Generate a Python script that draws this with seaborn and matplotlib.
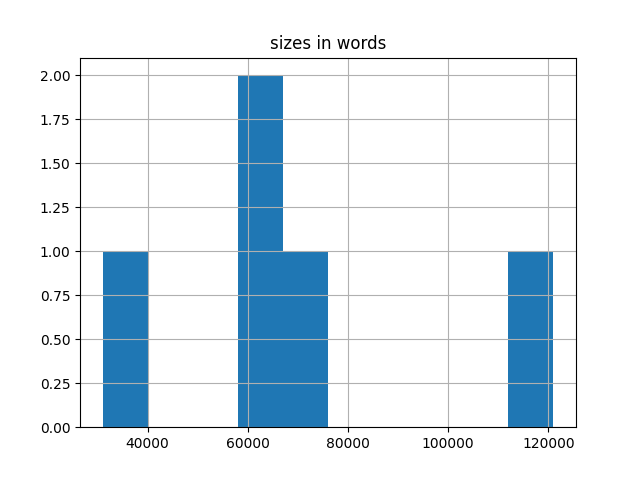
import pandas as pd
import matplotlib
matplotlib.use('Agg')
import matplotlib.pyplot as plt
import seaborn as sns

# word counts per text
titles = ['text_a', 'text_b', 'text_c', 'text_d', 'text_e']
sizes = [31000, 60500, 64000, 71000, 121000]

data = pd.DataFrame({'title': titles, 'sizes in words': sizes})

fig, ax = plt.subplots(figsize=(6.4, 4.8), dpi=100)
sns.histplot(data=data, x='sizes in words', bins=10, stat='count',
             color='#1f77b4', alpha=1, linewidth=0, ax=ax)
ax.grid(True)
ax.set_xlabel('')
ax.set_ylabel('')
ax.set_title('sizes in words')
fig.savefig('out.png')
